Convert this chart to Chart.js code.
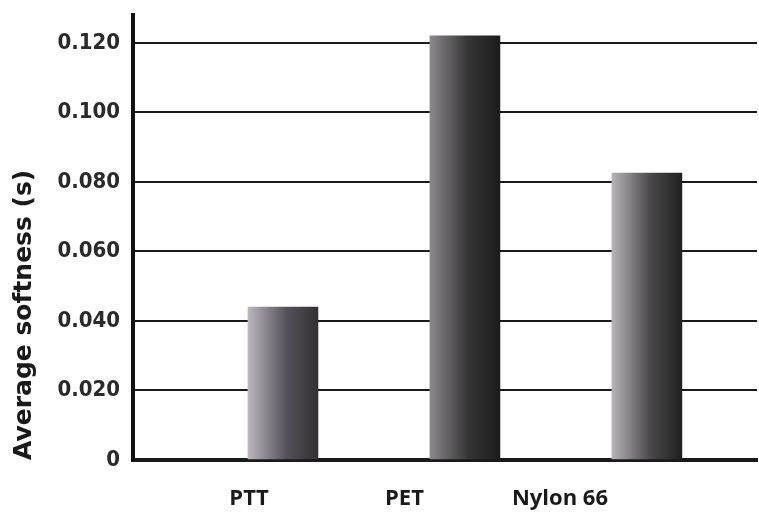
<!DOCTYPE html>
<html>
<head>
<meta charset="utf-8">
<script src="https://cdn.jsdelivr.net/npm/chart.js@4/dist/chart.umd.min.js"></script>
<style>
  html, body { margin: 0; padding: 0; background: #fff; }
  #wrap { width: 759px; height: 512px; }
</style>
</head>
<body>
<div id="wrap"><canvas id="graph1"></canvas></div>
<script>
const categories   = ['PTT', 'PET', 'Nylon 66'];
const softness     = [0.044, 0.122, 0.0825];
const yTicks       = [0, 0.02, 0.04, 0.06, 0.08, 0.1, 0.12];
const yTickLabels  = ['0', '0.020', '0.040', '0.060', '0.080', '0.100', '0.120'];
// left / middle / right shade of each bar
const barShades = [
  ['#bcb6be', '#55515a', '#333133'],
  ['#8a888a', '#363536', '#1c1c1c'],
  ['#b6b4b6', '#4a484a', '#212121']
];

const initGraph = () => {
  const canvas = document.querySelector('#graph1');
  const graph = new Chart(canvas, {
    type: 'bar',
    data: {
      datasets: [{
        data: categories.map((c, i) => ({ x: i + 1, y: softness[i] })),
        barThickness: 70,
        borderWidth: 0,
        backgroundColor: ctx => {
          const chart = ctx.chart;
          if (!chart.chartArea) return '#555';
          const x = chart.scales.x.getPixelForValue(ctx.dataIndex + 1);
          const g = chart.ctx.createLinearGradient(x - 35, 0, x + 35, 0);
          const s = barShades[ctx.dataIndex];
          g.addColorStop(0, s[0]);
          g.addColorStop(0.55, s[1]);
          g.addColorStop(1, s[2]);
          return g;
        }
      }]
    },
    options: {
      responsive: true,
      maintainAspectRatio: false,
      animation: false,
      layout: { padding: { top: 15, left: 5, right: 2, bottom: 0 } },
      plugins: { legend: { display: false }, tooltip: { enabled: false } },
      scales: {
        x: {
          type: 'linear',
          offset: false,
          bounds: 'data',
          min: 0.176,
          max: 3.605,
          grid: { offset: false },
          display: false
        },
        xl: {
          type: 'linear',
          axis: 'x',
          position: 'bottom',
          offset: false,
          bounds: 'data',
          min: 0.254,
          max: 4.267,
          afterBuildTicks: scale => {
            scale.ticks = categories.map((c, i) => ({ value: i + 1 }));
          },
          afterFit: scale => { scale.height = 52; },
          grid: { display: false, drawTicks: false, offset: false },
          border: { display: true, width: 4, color: '#1a1a1a' },
          ticks: {
            autoSkip: false,
            maxRotation: 0,
            padding: 26,
            color: '#1a1a1a',
            font: { family: 'Open Sans', weight: 'bold', size: 22 },
            callback: v => categories[v - 1]
          }
        },
        y: {
          min: 0,
          max: 0.128,
          afterBuildTicks: scale => {
            scale.ticks = yTicks.map(v => ({ value: v }));
          },
          afterFit: scale => {
            scale.width = 128;
            scale.paddingTop = 0;
            scale.paddingBottom = 0;
          },
          grid: { color: '#1a1a1a', lineWidth: 2, drawTicks: false },
          border: { display: true, width: 4, color: '#111' },
          ticks: {
            padding: 13,
            color: '#2a2a2a',
            font: { family: 'DejaVu Sans Condensed', weight: 'bold', size: 22 },
            callback: (v, i) => yTickLabels[i]
          },
          title: {
            display: true,
            text: 'Average softness (s)',
            align: 'start',
            color: '#1a1a1a',
            padding: { top: 4, bottom: 0 },
            font: { family: 'DejaVu Sans', weight: 'bold', size: 25 }
          }
        }
      }
    }
  });
};
initGraph();
</script>
</body>
</html>
